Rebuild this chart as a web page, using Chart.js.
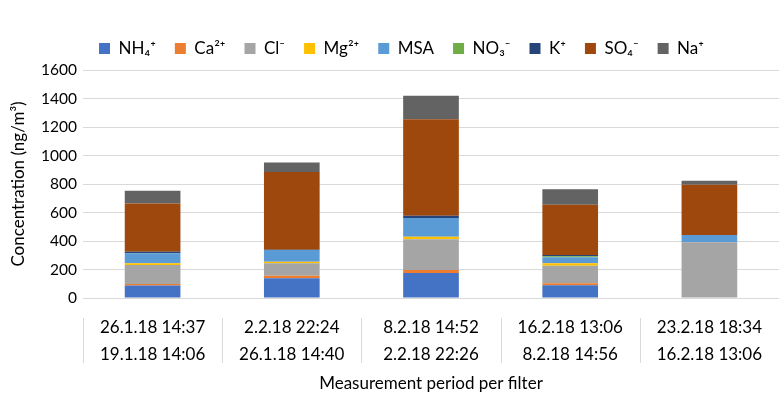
<!DOCTYPE html>
<html>
<head>
<meta charset="utf-8">
<script src="https://cdn.jsdelivr.net/npm/chart.js@4.4.1/dist/chart.umd.min.js"></script>
<style>
  html, body { margin: 0; padding: 0; background: #ffffff; }
  #wrap { width: 779px; height: 396px; position: relative; }
</style>
</head>
<body>
<div id="wrap"><canvas id="chart"></canvas></div>
<script>
// Filter periods: end time (upper row) and start time (lower row)
const periodEnd   = ['26.1.18 14:37', '2.2.18 22:24', '8.2.18 14:52', '16.2.18 13:06', '23.2.18 18:34'];
const periodStart = ['19.1.18 14:06', '26.1.18 14:40', '2.2.18 22:26', '8.2.18 14:56', '16.2.18 13:06'];

// Ion concentrations per filter (ng/m³)
const nh4 = [88, 138, 176, 89, 0];
const ca  = [10, 18, 20, 14, 0];
const cl  = [133, 87, 216, 124, 391];
const mg  = [12, 12, 18, 16, 0];
const msa = [71, 82, 132, 43, 51];
const no3 = [0, 0, 0, 7, 0];
const k   = [11, 2, 16, 9, 0];
const so4 = [339, 545, 676, 353, 353];
const na  = [89, 67, 166, 108, 28];

const yTicks = { min: 0, max: 1600, step: 200 };

const FONT = 'Lato, "Open Sans", "DejaVu Sans", sans-serif';

const series = [
  { label: 'NH₄⁺',  data: nh4, color: '#4472C4' },
  { label: 'Ca²⁺',  data: ca,  color: '#ED7D31' },
  { label: 'Cl⁻',   data: cl,  color: '#A5A5A5' },
  { label: 'Mg²⁺',  data: mg,  color: '#FFC000' },
  { label: 'MSA',   data: msa, color: '#5B9BD5' },
  { label: 'NO₃⁻',  data: no3, color: '#70AD47' },
  { label: 'K⁺',    data: k,   color: '#264478' },
  { label: 'SO₄⁻',  data: so4, color: '#9E480E' },
  { label: 'Na⁺',   data: na,  color: '#636363' }
];

// Vertical separators between the two-row category labels
const categorySeparators = {
  id: 'categorySeparators',
  afterDraw(chart) {
    const xs = chart.scales.x;
    const n = chart.data.labels.length;
    const w = (xs.right - xs.left) / n;
    const ctx = chart.ctx;
    ctx.save();
    ctx.strokeStyle = '#D9D9D9';
    ctx.lineWidth = 1;
    for (let i = 0; i < n; i++) {
      const x = Math.round(xs.getPixelForTick(i) - w / 2) + 0.5;
      ctx.beginPath();
      ctx.moveTo(x, xs.top + 20);
      ctx.lineTo(x, xs.top + 65);
      ctx.stroke();
    }
    ctx.restore();
  }
};

// Extra room under the legend and a small rightward nudge of the legend row
const legendSpacing = {
  id: 'legendSpacing',
  beforeLayout(chart) {
    const lg = chart.legend;
    if (lg && !lg._extraGap) {
      const fit = lg.fit.bind(lg);
      lg.fit = function () { fit(); this.height += 3; };
      lg._extraGap = true;
    }
  },
  afterLayout(chart) {
    const lg = chart.legend;
    if (lg) { lg.left += 12; lg.right += 12; }
  }
};

new Chart(document.getElementById('chart'), {
  type: 'bar',
  data: {
    labels: periodEnd.map((e, i) => [e, periodStart[i]]),
    datasets: series.map(s => ({
      label: s.label,
      data: s.data,
      backgroundColor: s.color,
      borderWidth: 0,
      barPercentage: 0.4,
      categoryPercentage: 1.0
    }))
  },
  options: {
    responsive: true,
    maintainAspectRatio: false,
    animation: false,
    devicePixelRatio: 1,
    layout: { padding: { top: 21, left: 0, right: 0, bottom: 0 } },
    plugins: {
      legend: {
        position: 'top',
        labels: {
          font: { family: FONT, size: 17 },
          color: '#000000',
          boxWidth: 11,
          boxHeight: 11,
          padding: 19
        }
      },
      tooltip: { enabled: false }
    },
    scales: {
      x: {
        stacked: true,
        grid: { display: false, drawTicks: false },
        border: { display: false },
        ticks: {
          font: { family: FONT, size: 17, lineHeight: 1.59 },
          color: '#000000',
          padding: 16,
          maxRotation: 0,
          autoSkip: false
        },
        title: {
          display: true,
          text: 'Measurement period per filter',
          font: { family: FONT, size: 17 },
          color: '#000000',
          padding: { top: 0, bottom: 2 }
        },
        afterFit(s) { s.height = 98; }
      },
      y: {
        stacked: true,
        min: yTicks.min,
        max: yTicks.max,
        ticks: {
          stepSize: yTicks.step,
          font: { family: FONT, size: 15.5 },
          color: '#000000',
          padding: 6,
          callback: v => String(v)
        },
        grid: { color: '#D9D9D9', drawTicks: false },
        border: { display: false },
        title: {
          display: true,
          text: 'Concentration (ng/m³)',
          font: { family: FONT, size: 17 },
          color: '#000000',
          padding: { top: 8, bottom: 0 }
        },
        afterFit(s) { s.width = 83; }
      }
    }
  },
  plugins: [categorySeparators, legendSpacing]
});
</script>
</body>
</html>
